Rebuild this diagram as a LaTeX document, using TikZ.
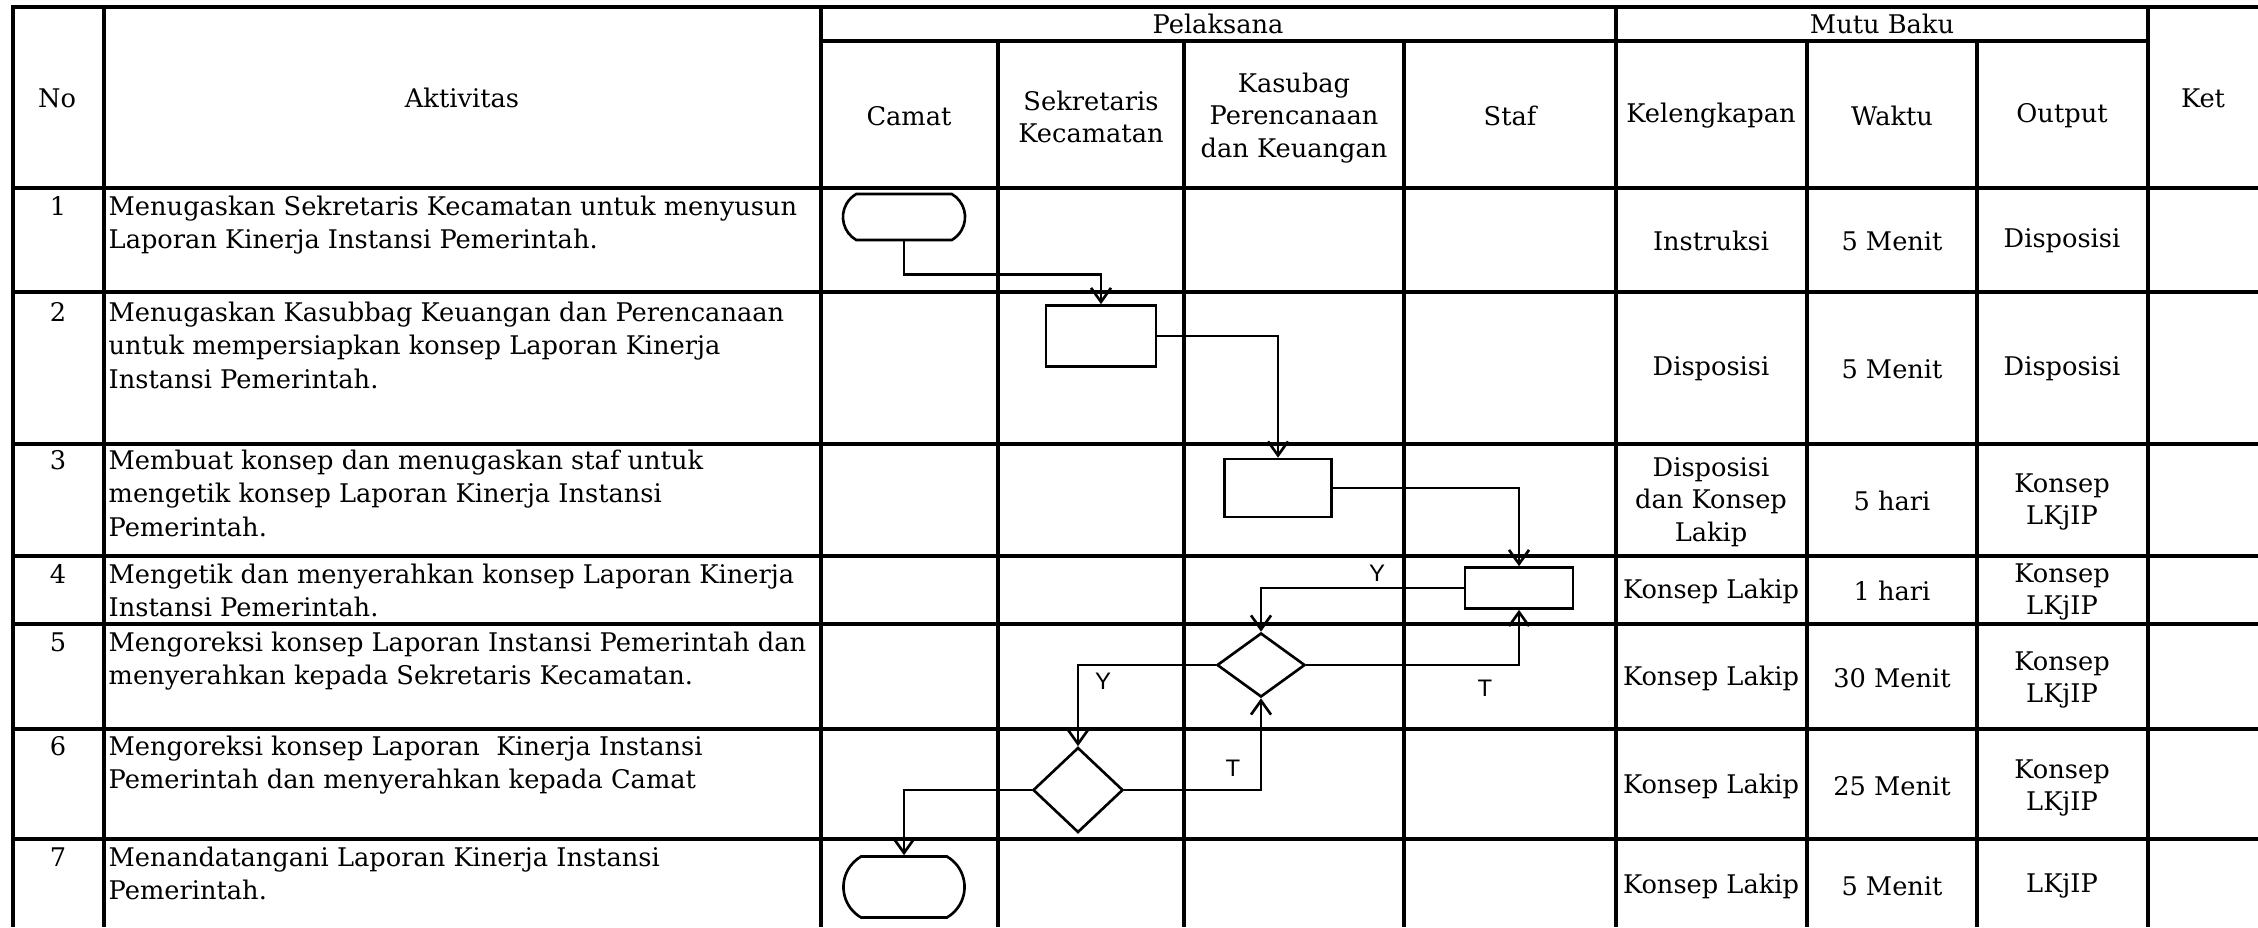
\documentclass[tikz,border=0pt]{standalone}
\usepackage{fontspec}
\setmainfont{DejaVu Serif}
\setsansfont{Liberation Sans}
\usetikzlibrary{arrows.meta,shapes.geometric,shapes.misc}

\tikzset{
  garis/.style={line width=1pt},
  teks/.style={font=\fontsize{7.3}{9.2}\selectfont, inner sep=0pt, align=center},
  aktv/.style={teks, font=\fontsize{7.3}{9.6}\selectfont, align=left, anchor=north west},
  nomor/.style={teks, anchor=base},
  proses/.style={draw, line width=0.75pt, rectangle, inner sep=0pt},
  mulai/.style={draw, line width=0.75pt, rounded rectangle, rounded rectangle arc length=120, inner sep=0pt},
  putusan/.style={draw, line width=0.75pt, diamond, inner sep=0pt},
  alur/.style={line width=0.75pt, -{Straight Barb[length=1.4mm,width=2mm]}},
  yt/.style={font=\sffamily\fontsize{6.8}{7}\selectfont, inner sep=0pt}
}

\begin{document}
\begin{tikzpicture}[x=0.01cm,y=-0.01cm]
	\useasboundingbox (0,0) rectangle (2258,927);
	% tabel
	\draw[garis] (13,927)--(13,7)--(2258,7);
	\draw[garis] (821,41)--(2148,41);
	\draw[garis] (13,188)--(2258,188);
	\draw[garis] (13,292)--(2258,292);
	\draw[garis] (13,444)--(2258,444);
	\draw[garis] (13,556)--(2258,556);
	\draw[garis] (13,624)--(2258,624);
	\draw[garis] (13,729)--(2258,729);
	\draw[garis] (13,839)--(2258,839);
	\draw[garis] (104,7)--(104,927);
	\draw[garis] (821,7)--(821,927);
	\draw[garis] (1616,7)--(1616,927);
	\draw[garis] (2148,7)--(2148,927);
	\draw[garis] (998,41)--(998,927);
	\draw[garis] (1184,41)--(1184,927);
	\draw[garis] (1404,41)--(1404,927);
	\draw[garis] (1807,41)--(1807,927);
	\draw[garis] (1977,41)--(1977,927);

	% kepala tabel
	\node[teks] (hno) at (57,98) {No};
	\node[teks] (hakt) at (462,98) {Aktivitas};
	\node[teks] (hket) at (2203,98) {Ket};
	\node[teks] (hpel) at (1218,24) {Pelaksana};
	\node[teks] (hmutu) at (1882,24) {Mutu Baku};
	\node[teks] (hcamat) at (909,116) {Camat};
	\node[teks] (hsek) at (1091,117) {Sekretaris\\Kecamatan};
	\node[teks] (hkas) at (1294,118) {Kasubag\\Perencanaan\\dan Keuangan};
	\node[teks] (hstaf) at (1510,116) {Staf};
	\node[teks] (hkel) at (1711,116) {Kelengkapan};
	\node[teks] (hwkt) at (1892,116) {Waktu};
	\node[teks] (hout) at (2062,116) {Output};

	% nomor dan aktivitas
	\node[nomor] (n1) at (58,215) {1};
	\node[nomor] (n2) at (58,321) {2};
	\node[nomor] (n3) at (58,469) {3};
	\node[nomor] (n4) at (58,583) {4};
	\node[nomor] (n5) at (58,651) {5};
	\node[nomor] (n6) at (58,755) {6};
	\node[nomor] (n7) at (58,866) {7};
	\node[aktv] (a1) at (108,195) {Menugaskan Sekretaris Kecamatan untuk menyusun\\Laporan Kinerja Instansi Pemerintah.};
	\node[aktv] (a2) at (108,301) {Menugaskan Kasubbag Keuangan dan Perencanaan\\untuk mempersiapkan konsep Laporan Kinerja\\Instansi Pemerintah.};
	\node[aktv] (a3) at (108,449) {Membuat konsep dan menugaskan staf untuk\\mengetik konsep Laporan Kinerja Instansi\\Pemerintah.};
	\node[aktv] (a4) at (108,563) {Mengetik dan menyerahkan konsep Laporan Kinerja\\Instansi Pemerintah.};
	\node[aktv] (a5) at (108,631) {Mengoreksi konsep Laporan Instansi Pemerintah dan\\menyerahkan kepada Sekretaris Kecamatan.};
	\node[aktv] (a6) at (108,735) {Mengoreksi konsep Laporan~ Kinerja Instansi\\Pemerintah dan menyerahkan kepada Camat};
	\node[aktv] (a7) at (108,846) {Menandatangani Laporan Kinerja Instansi\\Pemerintah.};

	% mutu baku
	\node[teks] (k1) at (1711,241) {Instruksi};
	\node[teks] (w1) at (1892,241) {5 Menit};
	\node[teks] (o1) at (2062,241) {Disposisi};
	\node[teks] (k2) at (1711,369) {Disposisi};
	\node[teks] (w2) at (1892,369) {5 Menit};
	\node[teks] (o2) at (2062,369) {Disposisi};
	\node[teks] (k3) at (1711,502) {Disposisi\\dan Konsep\\Lakip};
	\node[teks] (w3) at (1892,501) {5 hari};
	\node[teks] (o3) at (2062,502) {Konsep\\LKjIP};
	\node[teks] (k4) at (1711,591) {Konsep Lakip};
	\node[teks] (w4) at (1892,591) {1 hari};
	\node[teks] (o4) at (2062,592) {Konsep\\LKjIP};
	\node[teks] (k5) at (1711,678) {Konsep Lakip};
	\node[teks] (w5) at (1892,678) {30 Menit};
	\node[teks] (o5) at (2062,680) {Konsep\\LKjIP};
	\node[teks] (k6) at (1711,786) {Konsep Lakip};
	\node[teks] (w6) at (1892,786) {25 Menit};
	\node[teks] (o6) at (2062,788) {Konsep\\LKjIP};
	\node[teks] (k7) at (1711,886) {Konsep Lakip};
	\node[teks] (w7) at (1892,886) {5 Menit};
	\node[teks] (o7) at (2062,886) {LKjIP};

	% bagan alir
	\node[mulai, minimum width=1.22cm, minimum height=0.46cm] (t1) at (904,217) {};
	\node[proses, minimum width=1.10cm, minimum height=0.61cm] (b2) at (1101,336) {};
	\node[proses, minimum width=1.07cm, minimum height=0.58cm] (b3) at (1278,488) {};
	\node[proses, minimum width=1.08cm, minimum height=0.41cm] (b4) at (1519,588) {};
	\node[putusan, minimum width=0.88cm, minimum height=0.64cm] (d1) at (1261,665) {};
	\node[putusan, minimum width=0.90cm, minimum height=0.85cm] (d2) at (1078,790) {};
	\node[mulai, minimum width=1.21cm, minimum height=0.61cm] (t2) at (904,887) {};

	\draw[alur] (t1.south) -- ++(0,33) -| (b2.north);
	\draw[alur] (b2.east) -| (b3.north);
	\draw[alur] (b3.east) -| (b4.north);
	\draw[alur] (b4.west) -| (d1.north);
	\draw[alur] (d1.east) -| (b4.south);
	\draw[alur] (d1.west) -| (d2.north);
	\draw[alur] (d2.east) -| (d1.south);
	\draw[alur] (d2.west) -| (t2.north);

	\node[yt] (y1) at (1377,573) {Y};
	\node[yt] (tt1) at (1485,688) {T};
	\node[yt] (y2) at (1103,681) {Y};
	\node[yt] (tt2) at (1233,768) {T};
\end{tikzpicture}
\end{document}
